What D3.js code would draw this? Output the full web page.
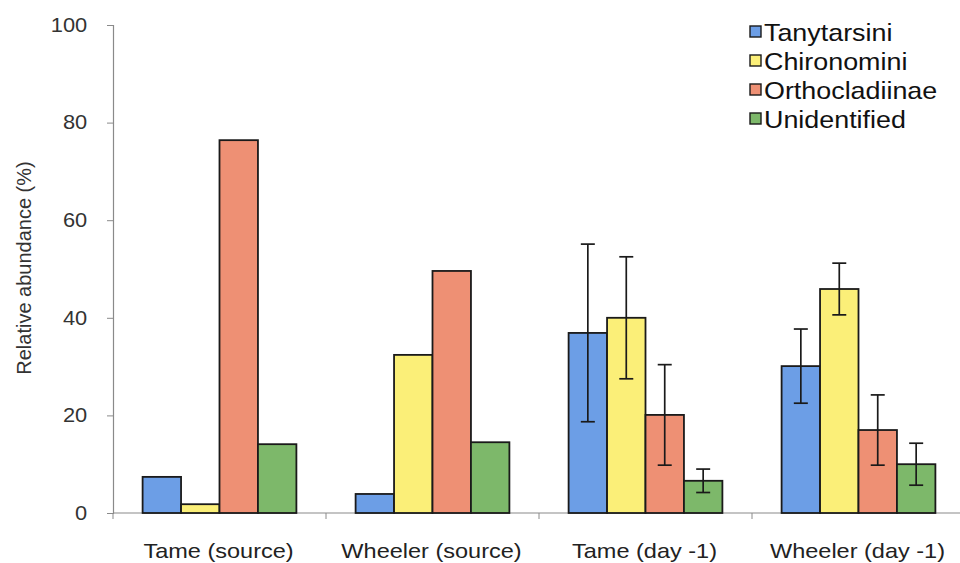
<!DOCTYPE html>
<html>
<head>
<meta charset="utf-8">
<script src="https://cdn.jsdelivr.net/npm/d3@7"></script>
<style>
  html, body { margin: 0; padding: 0; background: #fff; }
  svg { display: block; font-family: Arial, "Liberation Sans", sans-serif; }
</style>
</head>
<body>
<svg id="chart" width="960" height="563"></svg>
<script>
// Relative abundance of chironomid tribes/subfamilies per site
const categories = ["Tame (source)", "Wheeler (source)", "Tame (day -1)", "Wheeler (day -1)"];
const seriesNames = ["Tanytarsini", "Chironomini", "Orthocladiinae", "Unidentified"];
const seriesColors = ["#6c9ee6", "#fbef78", "#ee9074", "#7db86a"];

// values[series][category]
const tanytarsini    = [7.4, 3.9, 36.9, 30.1];
const chironomini    = [1.8, 32.4, 40.0, 45.9];
const orthocladiinae = [76.4, 49.6, 20.1, 17.0];
const unidentified   = [14.1, 14.5, 6.6, 10.0];

// error bar half-widths (null = no error bar)
const tanytarsiniErr    = [null, null, 18.2, 7.6];
const chironominiErr    = [null, null, 12.5, 5.3];
const orthocladiinaeErr = [null, null, 10.3, 7.2];
const unidentifiedErr   = [null, null, 2.4, 4.3];

const yTicks = [0, 20, 40, 60, 80, 100];

const seriesValues = [tanytarsini, chironomini, orthocladiinae, unidentified];
const seriesErrs = [tanytarsiniErr, chironominiErr, orthocladiinaeErr, unidentifiedErr];

const rows = [];
seriesNames.forEach((s, si) => {
  categories.forEach((c, ci) => {
    rows.push({ series: s, category: c, value: seriesValues[si][ci], err: seriesErrs[si][ci], color: seriesColors[si] });
  });
});

// text in this figure is set slightly wide
const stretch = 1.12;

const svg = d3.select("#chart");

const x0 = d3.scaleBand().domain(categories).range([113, 965]).paddingInner(0).paddingOuter(0);
const x1 = d3.scaleBand().domain(seriesNames).range([0, x0.bandwidth()]).paddingInner(0).paddingOuter(0.77);
const y = d3.scaleLinear().domain([0, 100]).range([513, 25]);

// y axis
const yAxis = svg.append("g").attr("transform", "translate(113,0)")
  .call(d3.axisLeft(y).tickValues(yTicks).tickSize(6).tickPadding(17));
yAxis.select(".domain").attr("stroke", "#8a8a8a").attr("stroke-width", 1.2);
yAxis.selectAll(".tick line").attr("stroke", "#8a8a8a");
yAxis.selectAll(".tick text").attr("fill", "#333").style("font-size", "19.5px")
  .attr("transform", `scale(${stretch},1)`);

// x axis
const xAxisG = svg.append("g").attr("transform", "translate(0,513)");
xAxisG.append("line").attr("x1", 113).attr("x2", 960).attr("stroke", "#8a8a8a").attr("stroke-width", 1.2);
const boundaries = categories.map(c => x0(c));
xAxisG.selectAll("line.tk").data(boundaries).join("line").attr("class", "tk")
  .attr("x1", d => d).attr("x2", d => d).attr("y1", 0).attr("y2", 6)
  .attr("stroke", "#8a8a8a");
xAxisG.selectAll("text").data(categories).join("text")
  .attr("transform", d => `translate(${x0(d) + x0.bandwidth() / 2 - 1},45) scale(${stretch},1)`)
  .attr("text-anchor", "middle")
  .attr("fill", "#222")
  .style("font-size", "21px")
  .text(d => d);

// y axis title
svg.append("text")
  .attr("transform", "translate(31,268) rotate(-90)")
  .attr("text-anchor", "middle")
  .attr("fill", "#333")
  .style("font-size", "20px")
  .text("Relative abundance (%)");

// bars
svg.append("g").selectAll("rect").data(rows).join("rect")
  .attr("x", d => x0(d.category) + x1(d.series))
  .attr("y", d => y(d.value))
  .attr("width", x1.bandwidth())
  .attr("height", d => y(0) - y(d.value))
  .attr("fill", d => d.color)
  .attr("stroke", "#1a1a1a")
  .attr("stroke-width", 1.8);

// error bars
const eb = svg.append("g").attr("stroke", "#1a1a1a").attr("stroke-width", 1.7);
const errRows = rows.filter(d => d.err != null);
eb.selectAll("line.v").data(errRows).join("line").attr("class", "v")
  .attr("x1", d => x0(d.category) + x1(d.series) + x1.bandwidth() / 2)
  .attr("x2", d => x0(d.category) + x1(d.series) + x1.bandwidth() / 2)
  .attr("y1", d => y(d.value + d.err))
  .attr("y2", d => y(d.value - d.err));
[1, -1].forEach(sign => {
  eb.selectAll("line.c" + (sign > 0 ? "t" : "b")).data(errRows).join("line")
    .attr("class", "c" + (sign > 0 ? "t" : "b"))
    .attr("x1", d => x0(d.category) + x1(d.series) + x1.bandwidth() / 2 - 7)
    .attr("x2", d => x0(d.category) + x1(d.series) + x1.bandwidth() / 2 + 7)
    .attr("y1", d => y(d.value + sign * d.err))
    .attr("y2", d => y(d.value + sign * d.err));
});

// legend
const legend = svg.append("g").attr("transform", "translate(750,32)");
const li = legend.selectAll("g").data(seriesNames).join("g")
  .attr("transform", (d, i) => `translate(0,${i * 29})`);
li.append("rect").attr("x", 0).attr("y", -6).attr("width", 11).attr("height", 11)
  .attr("fill", (d, i) => seriesColors[i]).attr("stroke", "#1a1a1a").attr("stroke-width", 1.4);
li.append("text")
  .attr("transform", `translate(14,0) scale(${stretch},1)`)
  .attr("dy", "0.36em")
  .attr("fill", "#111").style("font-size", "24px").text(d => d);
</script>
</body>
</html>
